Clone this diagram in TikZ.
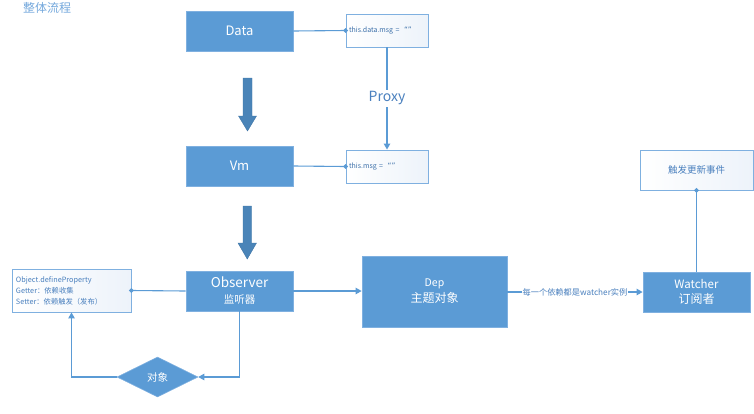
\documentclass[tikz,border=0pt]{standalone}
\usepackage{fontspec}
\setmainfont{Noto Sans CJK SC}
\newfontfamily\quotefont{DejaVu Sans}
\usetikzlibrary{shapes.geometric,arrows.meta,shadows}
\definecolor{boxblue}{HTML}{5B9BD5}
\definecolor{boxedge}{HTML}{7FB0E0}
\definecolor{linkblue}{HTML}{5B9BD5}
\definecolor{bigarrow}{HTML}{4A84B8}
\definecolor{bigarrowedge}{HTML}{3F75A6}
\definecolor{smalltext}{HTML}{3A6EA8}
\definecolor{softtext}{HTML}{4A80BE}
\definecolor{titleblue}{HTML}{74A8DC}
\definecolor{paleblue}{HTML}{EDF3FA}
\newcommand{\qquotes}{{\quotefont\fontsize{7.5}{8}\selectfont “”}}
\tikzset{
  bluebox/.style={rectangle, fill=boxblue, draw=boxedge, line width=0.8pt, text=white,
    align=center, inner sep=0pt,
    drop shadow={shadow xshift=1pt, shadow yshift=-1.2pt, opacity=0.18}},
  notebox/.style={rectangle, draw=boxedge, line width=0.9pt, left color=white, right color=paleblue,
    text=smalltext, inner xsep=3pt, inner ysep=0pt},
  link/.style={draw=linkblue, line width=1.1pt},
  linkarrow/.style={link, -{Triangle[length=6pt,width=6.5pt]}},
  linkdot/.style={link, -{Circle[length=4.5pt]}, shorten >=-2.25pt},
  blockarrow/.style={fill=bigarrow, draw=bigarrowedge, line width=0.4pt},
}
\begin{document}
\begin{tikzpicture}[x=1pt,y=-1pt]
\useasboundingbox (0,0) rectangle (754,413);

% title
\node[text=titleblue, font=\fontsize{12}{14}\selectfont, inner sep=0pt] (title) at (47,8) {整体流程};

% main boxes
\node[bluebox, minimum width=107pt, minimum height=40pt, font=\fontsize{13}{16}\selectfont] (data) at (239.5,31) {Data};
\node[bluebox, minimum width=107pt, minimum height=40pt, font=\fontsize{13}{16}\selectfont] (vm) at (239.5,166) {Vm};
\node[bluebox, minimum width=107pt, minimum height=40pt, font=\fontsize{10.5}{16}\selectfont] (obs) at (239.5,291)
  {{\fontsize{13.5}{16}\selectfont Observer}\\监听器};
\node[bluebox, minimum width=145pt, minimum height=71pt, font=\fontsize{12}{16}\selectfont] (dep) at (434.5,291.5)
  {{\fontsize{10.5}{16}\selectfont Dep}\\主题对象};
\node[bluebox, minimum width=107pt, minimum height=40pt, font=\fontsize{12}{15}\selectfont] (watcher) at (696.5,292)
  {{\fontsize{11.5}{15}\selectfont Watcher}\\订阅者};

% note boxes
\node[notebox, minimum width=82pt, minimum height=33pt, text width=76pt, align=left,
  font=\fontsize{7}{8}\selectfont] (tdm) at (387,30.5) {this.data.msg =\ \ \qquotes};
\node[notebox, minimum width=82pt, minimum height=33pt, text width=76pt, align=left,
  font=\fontsize{7}{8}\selectfont] (tm) at (387,166.5) {this.msg =\ \ \qquotes};
\node[notebox, minimum width=113pt, minimum height=40pt, text=softtext,
  font=\fontsize{9.5}{12}\selectfont] (event) at (696.5,170) {触发更新事件};
\node[notebox, minimum width=119pt, minimum height=43pt, text width=111pt, inner xsep=4pt, align=left,
  text=softtext, font=\fontsize{7.3}{11}\selectfont] (ldp) at (71.5,290.5)
  {Object.defineProperty\\Getter：依赖收集\\Setter：依赖触发（发布）};

% diamond
\node[diamond, fill=boxblue, draw=boxedge, line width=0.6pt, minimum width=81pt, minimum height=40pt,
  aspect=2, inner sep=0pt, text=white, font=\fontsize{10.5}{12}\selectfont] (obj) at (157.5,377) {对象};

% block arrows
\draw[blockarrow] (243,78) -- (252,78) -- (252,116) -- (256.5,116) -- (247.5,131) -- (238.5,116) -- (243,116) -- cycle;
\draw[blockarrow] (243,206) -- (251.5,206) -- (251.5,243) -- (256.5,243) -- (247.25,259) -- (238,243) -- (243,243) -- cycle;

% connectors
\draw[linkdot] (data.east) -- (tdm.west);
\draw[linkdot] (vm.east) -- (tm.west);
\draw[linkarrow] (tdm.south) -- node[fill=white, text=softtext, inner sep=2pt,
  font=\fontsize{14}{16}\selectfont] (proxy) {Proxy} (tm.north);
\draw[linkdot] (obs.west) -- (ldp.east);
\draw[linkarrow] (obs.east) -- (obs.east -| dep.west);
\draw[linkarrow] (dep.east |- watcher.west) -- node[fill=white, text=softtext, inner sep=1pt,
  font=\fontsize{8.2}{10}\selectfont] (deplabel) {每一个依赖都是watcher实例} (watcher.west);
\draw[linkdot] (watcher.north) -- (event.south);
\draw[linkarrow] (obs.south) |- (obj.east);
\draw[linkarrow] (obj.west) -| (ldp.south);
\end{tikzpicture}
\end{document}
